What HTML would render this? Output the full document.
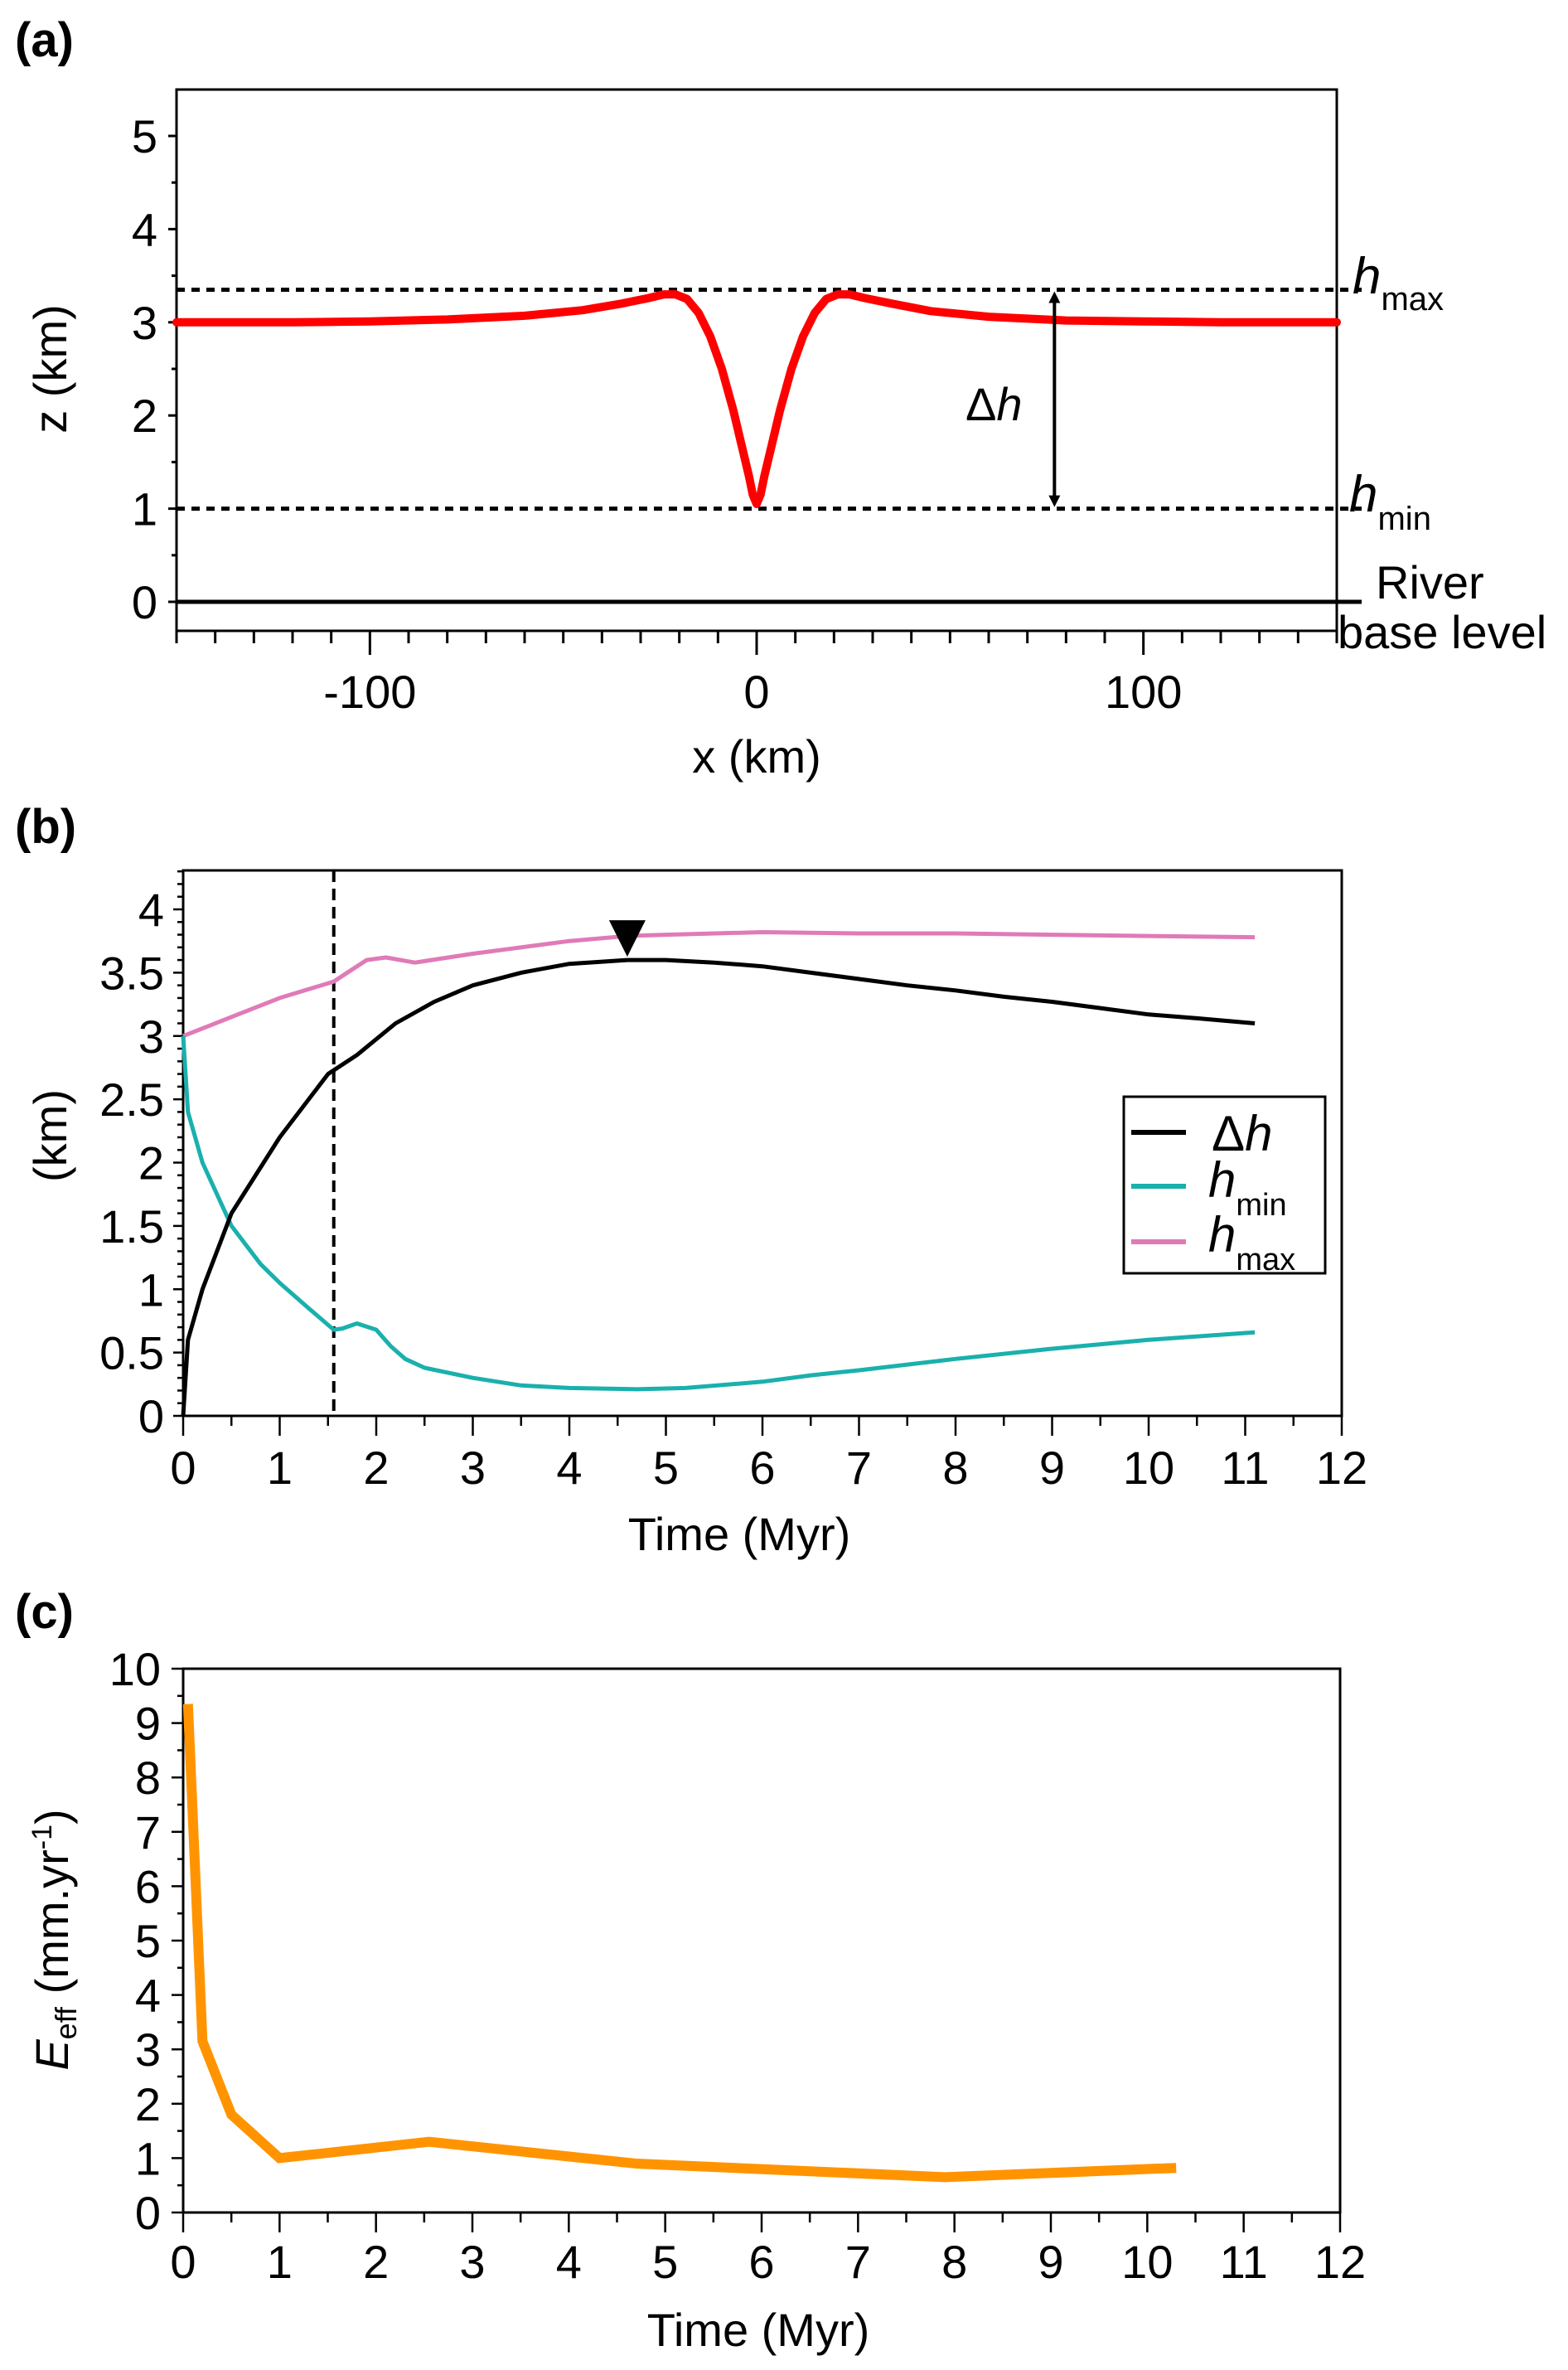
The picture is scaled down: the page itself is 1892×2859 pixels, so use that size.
<!DOCTYPE html>
<html><head><meta charset="utf-8">
<style>
html,body{margin:0;padding:0;background:#fff;}
svg{display:block;font-family:"Liberation Sans",Arial,sans-serif;}
</style></head>
<body>
<svg id="fig" width="1892" height="2859" viewBox="0 0 1892 2859" xmlns="http://www.w3.org/2000/svg"></svg>
<script>
// ---------- Panel (a) data ----------
const aProfileX = [-150,-120,-100,-80,-60,-45,-35,-28,-24,-21,-18,-15,-12,-9,-6,-4,-2,-1,0,1,2,4,6,9,12,15,18,21,24,28,35,45,60,80,100,120,150];
const aProfileZ = [3.0,3.0,3.01,3.03,3.07,3.13,3.2,3.26,3.3,3.3,3.25,3.1,2.85,2.5,2.05,1.7,1.35,1.15,1.05,1.15,1.35,1.7,2.05,2.5,2.85,3.1,3.25,3.3,3.3,3.26,3.2,3.12,3.06,3.02,3.01,3.0,3.0];
const aHmax = 3.35, aHmin = 1.0;
const aXTicks = [-100,0,100];
const aYTicks = [0,1,2,3,4,5];
// ---------- Panel (b) data ----------
const bDhT = [0,0.05,0.2,0.5,1,1.5,1.8,2.2,2.6,3,3.5,4,4.6,5,5.5,6,6.5,7,7.5,8,8.5,9,9.5,10,10.5,11.1];
const bDhV = [0,0.6,1.0,1.6,2.2,2.7,2.85,3.1,3.27,3.4,3.5,3.57,3.6,3.6,3.58,3.55,3.5,3.45,3.4,3.36,3.31,3.27,3.22,3.17,3.14,3.1];
const bMinT = [0,0.05,0.2,0.5,0.8,1,1.3,1.56,1.65,1.8,2.0,2.15,2.3,2.5,3,3.5,4,4.7,5.2,6,6.5,7,8,9,10,11.1];
const bMinV = [3.0,2.4,2.0,1.5,1.2,1.05,0.85,0.68,0.69,0.73,0.68,0.55,0.45,0.38,0.3,0.24,0.22,0.21,0.22,0.27,0.32,0.36,0.45,0.53,0.6,0.66];
const bMaxT = [0,0.5,1,1.56,1.7,1.9,2.1,2.4,3,4,4.6,5,6,7,8,9,10,11.1];
const bMaxV = [3.0,3.15,3.3,3.43,3.5,3.6,3.62,3.58,3.65,3.75,3.79,3.8,3.82,3.81,3.81,3.8,3.79,3.78];
const bDashT = 1.56, bPeakT = 4.6;
const bYTicks = [0,0.5,1,1.5,2,2.5,3,3.5,4];
const bXTicks = [0,1,2,3,4,5,6,7,8,9,10,11,12];
// ---------- Panel (c) data ----------
const cT = [0.05,0.2,0.5,1.0,2.55,4.7,7.9,10.3];
const cE = [9.35,3.15,1.8,1.0,1.3,0.9,0.65,0.82];
const cYTicks = [0,1,2,3,4,5,6,7,8,9,10];
const cXTicks = [0,1,2,3,4,5,6,7,8,9,10,11,12];

const FS=56;
const NS="http://www.w3.org/2000/svg";
const svg=document.getElementById('fig');
function mk(tag,attrs,parent,text){const e=document.createElementNS(NS,tag);for(const k in attrs)e.setAttribute(k,attrs[k]);if(text!==undefined)e.textContent=text;(parent||svg).appendChild(e);return e;}
function lin(d0,d1,r0,r1){return v=>r0+(v-d0)*(r1-r0)/(d1-d0);}
function pathOf(xs,ys,sx,sy){return xs.map((x,i)=>(i?'L':'M')+sx(x).toFixed(1)+','+sy(ys[i]).toFixed(1)).join(' ');}

// ===== Panel a =====
const ga=mk('g',{});  
const ax=lin(-150,150,213,1613), ay=lin(0,5,726,164);
let t=mk('text',{x:18,y:68,'font-size':58,'font-weight':'bold'},ga,'(a)');
 
let r=mk('rect',{x:213,y:108,width:1400,height:653,fill:'none',stroke:'#000','stroke-width':3},ga);
 
for(let v=0;v<=5;v+=0.5){const y=ay(v);const major=Number.isInteger(v);
 let l=mk('line',{x1:213,x2:major?203:207,y1:y,y2:y,stroke:'#000','stroke-width':3},ga);
  }
aYTicks.forEach(v=>{let e=mk('text',{x:190,y:ay(v)+20,'font-size':FS,'text-anchor':'end'},ga,String(v));
  });
for(let v=-150;v<=150;v+=10){const x=ax(v);const major=v%100===0;
 let l=mk('line',{x1:x,x2:x,y1:761,y2:major?790:776,stroke:'#000','stroke-width':3},ga);
  }
aXTicks.forEach(v=>{let e=mk('text',{x:ax(v),y:854,'font-size':FS,'text-anchor':'middle'},ga,String(v));
  });
t=mk('text',{x:913,y:932,'font-size':FS,'text-anchor':'middle'},ga,'x (km)');
 
t=mk('text',{x:0,y:0,'font-size':FS,'text-anchor':'middle',transform:'translate(80,445) rotate(-90)'},ga,'z (km)');
 
let bl=mk('line',{x1:213,x2:1643,y1:ay(0),y2:ay(0),stroke:'#000','stroke-width':5},ga);
 
[aHmax,aHmin].forEach((v,i)=>{let d=mk('line',{x1:213,x2:1643,y1:ay(v),y2:ay(v),stroke:'#000','stroke-width':5,'stroke-dasharray':'10,8'},ga);
  });
let pf=mk('path',{d:pathOf(aProfileX,aProfileZ,ax,ay),fill:'none',stroke:'#ff0000','stroke-width':10,'stroke-linejoin':'round','stroke-linecap':'round'},ga);
 
const arX=ax(77);
let ar=mk('line',{x1:arX,x2:arX,y1:ay(aHmax)+10,y2:ay(aHmin)-10,stroke:'#000','stroke-width':4},ga);
 
mk('path',{d:`M${arX-7},${ay(aHmax)+16} L${arX},${ay(aHmax)+2} L${arX+7},${ay(aHmax)+16} Z`,fill:'#000'},ga);
mk('path',{d:`M${arX-7},${ay(aHmin)-16} L${arX},${ay(aHmin)-2} L${arX+7},${ay(aHmin)-16} Z`,fill:'#000'},ga);
t=mk('text',{x:1165,y:507,'font-size':FS},ga); t.innerHTML='Δ<tspan font-style="italic">h</tspan>';
 
t=mk('text',{x:1632,y:354,'font-size':62},ga); t.innerHTML='<tspan font-style="italic">h</tspan><tspan font-size="40" dy="20">max</tspan>';
 
t=mk('text',{x:1628,y:617,'font-size':62},ga); t.innerHTML='<tspan font-style="italic">h</tspan><tspan font-size="40" dy="22">min</tspan>';
 
t=mk('text',{x:1660,y:722,'font-size':FS},ga,'River');
 
t=mk('text',{x:1614,y:782,'font-size':FS},ga,'base level');
 

// ===== Panel b =====
const gb=mk('g',{});  
const bx=lin(0,12,221,1619), by=lin(0,4,1708,1097);
t=mk('text',{x:18,y:1017,'font-size':58,'font-weight':'bold'},gb,'(b)');
 
r=mk('rect',{x:221,y:1050,width:1398,height:658,fill:'none',stroke:'#000','stroke-width':3},gb);
 
for(let i=0;i<=43;i++){const v=i*0.1;const y=by(v);const major=i%5===0;
 let l=mk('line',{x1:221,x2:major?209:214,y1:y,y2:y,stroke:'#000','stroke-width':2.5},gb);
  }
bYTicks.forEach(v=>{let e=mk('text',{x:198,y:by(v)+20,'font-size':FS,'text-anchor':'end'},gb,String(v));
  });
for(let v=0;v<=12;v+=0.5){const x=bx(v);const major=Number.isInteger(v);
 let l=mk('line',{x1:x,x2:x,y1:1708,y2:major?1732:1720,stroke:'#000','stroke-width':2.5},gb);
  }
bXTicks.forEach(v=>{let e=mk('text',{x:bx(v),y:1790,'font-size':FS,'text-anchor':'middle'},gb,String(v));
  });
t=mk('text',{x:892,y:1870,'font-size':FS,'text-anchor':'middle'},gb,'Time (Myr)');
 
t=mk('text',{x:0,y:0,'font-size':FS,'text-anchor':'middle',transform:'translate(80,1370) rotate(-90)'},gb,'(km)');
 
let dv=mk('line',{x1:bx(bDashT),x2:bx(bDashT),y1:1050,y2:1708,stroke:'#000','stroke-width':4,'stroke-dasharray':'14,8'},gb);
 
let s=mk('path',{d:pathOf(bMaxT,bMaxV,bx,by),fill:'none',stroke:'#e07ab8','stroke-width':5,'stroke-linejoin':'round'},gb);
 
s=mk('path',{d:pathOf(bMinT,bMinV,bx,by),fill:'none',stroke:'#1ab0ad','stroke-width':5,'stroke-linejoin':'round'},gb);
 
s=mk('path',{d:pathOf(bDhT,bDhV,bx,by),fill:'none',stroke:'#000','stroke-width':5,'stroke-linejoin':'round'},gb);
 
const px=bx(bPeakT), py=by(3.6);
let tri=mk('path',{d:`M${px-22},${py-48} L${px+22},${py-48} L${px},${py-4} Z`,fill:'#000'},gb);
 
const lg=mk('g',{},gb);  
mk('rect',{x:1356,y:1323,width:243,height:213,fill:'#fff',stroke:'#000','stroke-width':3},lg);
[['#000',1366,'legend-entry-delta-h'],['#1ab0ad',1431,'legend-entry-hmin'],['#e07ab8',1498,'legend-entry-hmax']].forEach(a=>{
 let l=mk('line',{x1:1365,x2:1431,y1:a[1],y2:a[1],stroke:a[0],'stroke-width':6},lg);
  });
t=mk('text',{x:1462,y:1388,'font-size':60},lg); t.innerHTML='Δ<tspan font-style="italic">h</tspan>';
 
t=mk('text',{x:1458,y:1444,'font-size':60},lg); t.innerHTML='<tspan font-style="italic">h</tspan><tspan font-size="38" dy="22">min</tspan>';
 
t=mk('text',{x:1458,y:1510,'font-size':60},lg); t.innerHTML='<tspan font-style="italic">h</tspan><tspan font-size="38" dy="22">max</tspan>';
 

// ===== Panel c =====
const gc=mk('g',{});  
const cx=lin(0,12,221,1617), cy=lin(0,10,2669,2013);
t=mk('text',{x:18,y:1964,'font-size':58,'font-weight':'bold'},gc,'(c)');
 
r=mk('rect',{x:221,y:2013,width:1396,height:656,fill:'none',stroke:'#000','stroke-width':3},gc);
 
for(let v=0;v<=10;v+=0.5){const y=cy(v);const major=Number.isInteger(v);
 let l=mk('line',{x1:221,x2:major?207:214,y1:y,y2:y,stroke:'#000','stroke-width':2.5},gc);
  }
cYTicks.forEach(v=>{let e=mk('text',{x:194,y:cy(v)+20,'font-size':FS,'text-anchor':'end'},gc,String(v));
  });
for(let v=0;v<=12;v+=0.5){const x=cx(v);const major=Number.isInteger(v);
 let l=mk('line',{x1:x,x2:x,y1:2669,y2:major?2693:2681,stroke:'#000','stroke-width':2.5},gc);
  }
cXTicks.forEach(v=>{let e=mk('text',{x:cx(v),y:2748,'font-size':FS,'text-anchor':'middle'},gc,String(v));
  });
t=mk('text',{x:915,y:2830,'font-size':FS,'text-anchor':'middle'},gc,'Time (Myr)');
 
t=mk('text',{x:0,y:0,'font-size':FS,'text-anchor':'middle',transform:'translate(82,2340) rotate(-90)'},gc);
t.innerHTML='<tspan font-style="italic">E</tspan><tspan font-size="36" dy="10">eff</tspan><tspan dy="-10"> (mm.yr</tspan><tspan font-size="34" dy="-20">-1</tspan><tspan dy="20">)</tspan>';
 
s=mk('path',{d:pathOf(cT,cE,cx,cy),fill:'none',stroke:'#ff9400','stroke-width':12,'stroke-linejoin':'miter'},gc);
 
</script>
</body></html>
